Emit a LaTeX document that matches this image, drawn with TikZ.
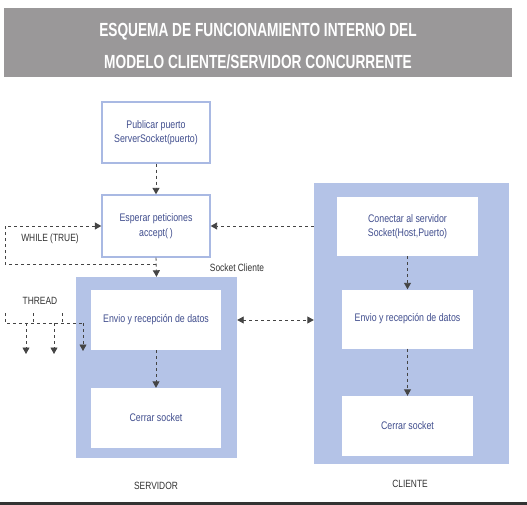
\documentclass[tikz,border=0pt]{standalone}
\usepackage{fontspec}
\setmainfont{Liberation Sans}[FakeStretch=0.8]
\usetikzlibrary{arrows.meta}
\definecolor{titlegray}{HTML}{9A9899}
\definecolor{bluefill}{HTML}{B4C3E7}
\definecolor{boxline}{HTML}{A9B9E3}
\definecolor{boxtext}{HTML}{414E8E}
\definecolor{labeltext}{HTML}{333333}
\definecolor{linecol}{HTML}{444444}
\tikzset{
  whitebox/.style={draw=boxline, line width=1.3pt, fill=white, text=boxtext, align=center, inner sep=0pt, font=\fontsize{11}{14.5}\selectfont},
  innerbox/.style={fill=white, text=boxtext, align=center, inner sep=0pt, font=\fontsize{11}{14.5}\selectfont},
  bluebox/.style={fill=bluefill, inner sep=0pt},
  lbl/.style={text=labeltext, inner sep=0pt, font=\fontsize{10.5}{12}\selectfont},
  dline/.style={draw=linecol, line width=0.9pt, dash pattern=on 3pt off 3pt},
  darrow/.style={dline, -{Triangle[length=6.5pt,width=7pt]}},
  dbiarrow/.style={dline, {Triangle[length=6.5pt,width=7pt]}-{Triangle[length=6.5pt,width=7pt]}},
  titletext/.style={text=white, inner sep=0pt, font=\bfseries\fontsize{19}{22}\selectfont}
}
\begin{document}
\begin{tikzpicture}[x=1pt,y=-1pt]
\useasboundingbox (0,0) rectangle (527,505);
\fill[white] (0,0) rectangle (527,505);
% title
\node[fill=titlegray, minimum width=508pt, minimum height=69pt, inner sep=0pt] (title) at (258,42.5) {};
\node[titletext, xscale=0.9] (t1) at (258,32) {ESQUEMA DE FUNCIONAMIENTO INTERNO DEL};
\node[titletext, xscale=0.9] (t2) at (258,62) {MODELO CLIENTE/SERVIDOR CONCURRENTE};
% bottom bar
\fill[labeltext] (0,502) rectangle (527,505);
% blue containers
\node[bluebox, minimum width=161pt, minimum height=181pt] (srv) at (156.5,367.5) {};
\node[bluebox, minimum width=195pt, minimum height=281pt] (cli) at (411.5,323.5) {};
% server boxes
\node[whitebox, minimum width=108pt, minimum height=61pt] (pub) at (156,132.5) {Publicar puerto\\ServerSocket(puerto)};
\node[whitebox, minimum width=108pt, minimum height=62pt] (esp) at (156,226) {Esperar peticiones\\accept(\,)};
\node[innerbox, minimum width=130pt, minimum height=60pt] (senv) at (156,320) {Envio y recepción de datos};
\node[innerbox, minimum width=130pt, minimum height=60pt] (scer) at (156,418) {Cerrar socket};
% client boxes
\node[innerbox, minimum width=141pt, minimum height=59pt] (ccon) at (407.5,226.5) {Conectar al servidor\\Socket(Host,Puerto)};
\node[innerbox, minimum width=131pt, minimum height=59pt] (cenv) at (407.5,319) {Envio y recepción de datos};
\node[innerbox, minimum width=131pt, minimum height=60pt] (ccer) at (407.5,426) {Cerrar socket};
% labels
\node[lbl] (lwhile) at (50,239) {WHILE (TRUE)};
\node[lbl] (lsock) at (237,268) {Socket Cliente};
\node[lbl] (lthread) at (40,301) {THREAD};
\node[lbl] (lsrv) at (156,486) {SERVIDOR};
\node[lbl] (lcli) at (410,484) {CLIENTE};
% connectors
\draw[darrow] (pub.south) -- (esp.north);
\draw[darrow] (esp.south) -- (srv.north);
\coordinate (wl) at (156,264);
\coordinate (wc) at (5,264);
\draw[darrow] (wl) -- (wc) |- (esp.west);
\draw[darrow] (esp.east -| cli.west) -- (esp.east);
\draw[dbiarrow] (senv.east -| srv.east) -- (senv.east -| cli.west);
\draw[darrow] (senv.south) -- (scer.north);
\draw[darrow] (ccon.south) -- (cenv.north);
\draw[darrow] (cenv.south) -- (ccer.north);
% threads
\coordinate (th0) at (5,313);
\coordinate (th1) at (5,323);
\coordinate (th2) at (83,323);
\coordinate (tk1) at (33,313);
\coordinate (tk2) at (62,313);
\coordinate (tb1) at (33,323);
\coordinate (tb2) at (62,323);
\coordinate (ta1) at (26,323);
\coordinate (ta2) at (54,323);
\coordinate (ea1) at (26,354);
\coordinate (ea2) at (54,354);
\coordinate (ea3) at (83,351);
\draw[dline] (th0) -- (th1) -- (th2);
\draw[dline] (tk1) -- (tb1);
\draw[dline] (tk2) -- (tb2);
\draw[darrow] (ta1) -- (ea1);
\draw[darrow] (ta2) -- (ea2);
\draw[darrow] (th2) -- (ea3);
\end{tikzpicture}
\end{document}
